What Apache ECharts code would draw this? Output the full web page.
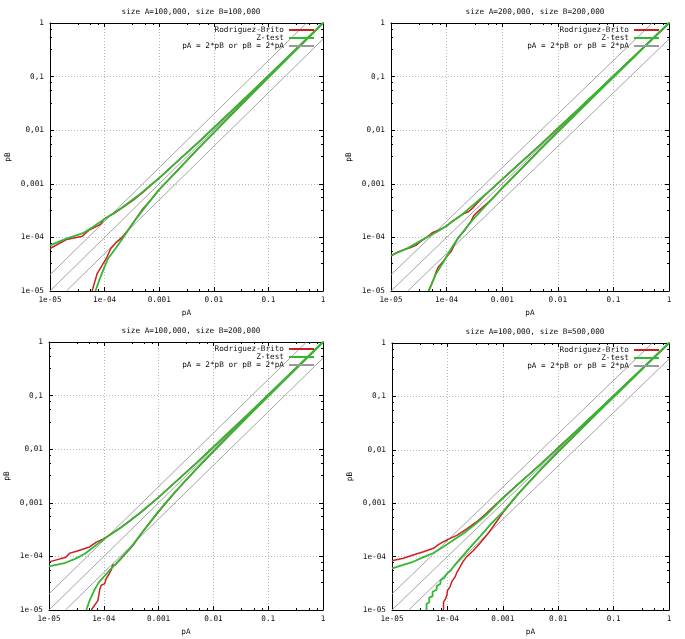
<!DOCTYPE html>
<html><head><meta charset="utf-8">
<script src="https://cdn.jsdelivr.net/npm/echarts@6/dist/echarts.min.js"></script>
<style>html,body{margin:0;padding:0;background:#fff}#c{width:685px;height:639px}</style>
</head><body><div id="c"></div>
<script>
// ---------- data ----------
const panelTitles = [
  'size A=100,000, size B=100,000',
  'size A=200,000, size B=200,000',
  'size A=100,000, size B=200,000',
  'size A=100,000, size B=500,000'
];
const seriesNames = ['Rodriguez-Brito', 'Z-test', 'pA = 2*pB or pB = 2*pA'];
const xTickLabels = ['1e-05', '1e-04', '0.001', '0.01', '0.1', '1'];
const yTickLabels = ['1e-05', '1e-04', '0,001', '0,01', '0,1', '1'];

// guide lines pB = 2*pA, pB = pA, pB = pA/2
const guideDouble = [[1e-5, 2e-5], [0.5, 1]];
const guideEqual = [[1e-5, 1e-5], [1, 1]];
const guideHalf = [[2e-5, 1e-5], [1, 0.5]];

// panel 1: A=100,000 B=100,000
const p1RedUp = [[1e-5,6.2e-5],[2e-5,9.1e-5],[3.9e-5,1.05e-4],[5.1e-5,1.35e-4],[8.4e-5,1.75e-4],[1e-4,2.24e-4],[1.5e-4,2.8e-4],[2e-4,3.45e-4],[3.4e-4,5e-4],[5e-4,6.9e-4],[1e-3,1.28e-3],[2e-3,2.45e-3],[5e-3,5.7e-3],[0.01,0.0111],[0.02,0.0216],[0.05,0.0525],[0.1,0.1035],[0.2,0.205],[0.5,0.503],[1,1]];
const p1RedLow = [[5.9e-5,1e-5],[7.3e-5,2.1e-5],[1.07e-4,4e-5],[1.3e-4,6.2e-5],[1.6e-4,7.9e-5],[2.1e-4,1e-4],[2.8e-4,1.45e-4],[3.5e-4,2e-4],[5e-4,3.4e-4],[7e-4,5e-4],[1e-3,7.8e-4],[2e-3,1.63e-3],[5e-3,4.37e-3],[0.01,0.009],[0.02,0.0185],[0.05,0.0475],[0.1,0.0965],[0.2,0.195],[0.5,0.497],[1,1]];
const p1GreenUp = [[1e-5,7.1e-5],[2e-5,9.5e-5],[4e-5,1.2e-4],[6e-5,1.55e-4],[1e-4,2.2e-4],[2e-4,3.5e-4],[4e-4,5.9e-4],[1e-3,1.28e-3],[2e-3,2.45e-3],[5e-3,5.7e-3],[0.01,0.0111],[0.02,0.0216],[0.05,0.0525],[0.1,0.1035],[0.2,0.205],[0.5,0.503],[1,1]];
const p1GreenLow = [[6.8e-5,1e-5],[8e-5,1.6e-5],[9.5e-5,2.5e-5],[1.15e-4,4e-5],[1.55e-4,6e-5],[2.2e-4,1e-4],[3.5e-4,2e-4],[5.9e-4,4e-4],[1e-3,7.8e-4],[2e-3,1.63e-3],[5e-3,4.37e-3],[0.01,0.009],[0.02,0.0185],[0.05,0.0475],[0.1,0.0965],[0.2,0.195],[0.5,0.497],[1,1]];

// panel 2: A=200,000 B=200,000
const p2RedUp = [[1e-5,4.5e-5],[1.3e-5,5.3e-5],[1.7e-5,5.9e-5],[2.2e-5,6.4e-5],[2.8e-5,7.1e-5],[3.5e-5,8.6e-5],[4.5e-5,1.02e-4],[5.5e-5,1.22e-4],[7e-5,1.35e-4],[1e-4,1.62e-4],[1.3e-4,2.05e-4],[1.6e-4,2.35e-4],[2e-4,2.75e-4],[2.5e-4,3.05e-4],[3e-4,3.6e-4],[5e-4,6.3e-4],[1e-3,1.21e-3],[2e-3,2.33e-3],[5e-3,5.5e-3],[0.01,0.0108],[0.02,0.0211],[0.05,0.0517],[0.1,0.1025],[0.2,0.203],[0.5,0.502],[1,1]];
const p2RedLow = [[4.7e-5,1e-5],[5.3e-5,1.3e-5],[5.9e-5,1.7e-5],[6.4e-5,2.2e-5],[7.1e-5,2.8e-5],[8.6e-5,3.5e-5],[1.02e-4,4.5e-5],[1.22e-4,5.5e-5],[1.35e-4,7e-5],[1.62e-4,1e-4],[2.05e-4,1.3e-4],[2.35e-4,1.6e-4],[2.75e-4,2e-4],[3.05e-4,2.5e-4],[3.6e-4,3e-4],[6.3e-4,5e-4],[1e-3,8.3e-4],[2e-3,1.72e-3],[5e-3,4.55e-3],[0.01,0.0093],[0.02,0.019],[0.05,0.0483],[0.1,0.0975],[0.2,0.197],[0.5,0.498],[1,1]];
const p2GreenUp = [[1e-5,4.6e-5],[2e-5,6.3e-5],[4e-5,9.5e-5],[7e-5,1.3e-4],[1e-4,1.65e-4],[2e-4,2.8e-4],[5e-4,6.3e-4],[1e-3,1.21e-3],[2e-3,2.33e-3],[5e-3,5.5e-3],[0.01,0.0108],[0.02,0.0211],[0.05,0.0517],[0.1,0.1025],[0.2,0.203],[0.5,0.502],[1,1]];
const p2GreenLow = [[4.8e-5,1e-5],[6.3e-5,2e-5],[9.5e-5,4e-5],[1.3e-4,7e-5],[1.65e-4,1e-4],[2.8e-4,2e-4],[6.3e-4,5e-4],[1e-3,8.3e-4],[2e-3,1.72e-3],[5e-3,4.55e-3],[0.01,0.0093],[0.02,0.019],[0.05,0.0483],[0.1,0.0975],[0.2,0.197],[0.5,0.498],[1,1]];

// panel 3: A=100,000 B=200,000
const p3RedUp = [[1e-5,7.9e-5],[1.6e-5,9e-5],[2e-5,9.5e-5],[2.4e-5,1.15e-4],[3.2e-5,1.25e-4],[4.5e-5,1.4e-4],[5.5e-5,1.5e-4],[7.3e-5,1.85e-4],[9.7e-5,2.1e-4],[1.3e-4,2.55e-4],[2e-4,3.4e-4],[3e-4,4.6e-4],[5e-4,6.9e-4],[1e-3,1.27e-3],[2e-3,2.42e-3],[3e-3,3.5e-3],[5e-3,5.65e-3],[7e-3,7.8e-3],[0.01,0.011],[0.02,0.0215],[0.05,0.052],[0.1,0.103],[0.2,0.204],[0.5,0.503],[1,1]];
const p3RedLow = [[5.9e-5,1e-5],[7.8e-5,1.5e-5],[8.5e-5,2.5e-5],[9e-5,2.9e-5],[1.04e-4,3.1e-5],[1.1e-4,3.8e-5],[1.2e-4,4.4e-5],[1.37e-4,5.6e-5],[1.45e-4,6.9e-5],[1.6e-4,6.9e-5],[1.95e-4,8.5e-5],[2.6e-4,1.18e-4],[3.4e-4,1.6e-4],[5e-4,2.8e-4],[1e-3,6.8e-4],[2e-3,1.58e-3],[3e-3,2.5e-3],[5e-3,4.35e-3],[7e-3,6.2e-3],[0.01,0.0091],[0.02,0.0187],[0.05,0.048],[0.1,0.097],[0.2,0.196],[0.5,0.497],[1,1]];
const p3GreenUp = [[1e-5,6.5e-5],[2e-5,7.6e-5],[3e-5,9e-5],[4.5e-5,1.12e-4],[7e-5,1.58e-4],[1e-4,2.1e-4],[2e-4,3.4e-4],[4.5e-4,6.4e-4],[1e-3,1.26e-3],[2e-3,2.4e-3],[5e-3,5.6e-3],[0.01,0.011],[0.02,0.0214],[0.05,0.052],[0.1,0.103],[0.2,0.204],[0.5,0.503],[1,1]];
const p3GreenLow = [[4.8e-5,1e-5],[5.5e-5,1.5e-5],[6.8e-5,2.4e-5],[8e-5,3.2e-5],[9e-5,3.7e-5],[1.3e-4,5.6e-5],[1.95e-4,8.7e-5],[3e-4,1.4e-4],[5e-4,2.8e-4],[1e-3,7e-4],[2e-3,1.6e-3],[5e-3,4.4e-3],[0.01,0.0091],[0.02,0.0187],[0.05,0.048],[0.1,0.097],[0.2,0.196],[0.5,0.497],[1,1]];

// panel 4: A=100,000 B=500,000
const p4RedUp = [[1e-5,8.4e-5],[1.6e-5,9.3e-5],[2.4e-5,1.07e-4],[3.7e-5,1.23e-4],[5.6e-5,1.43e-4],[7e-5,1.7e-4],[8.5e-5,1.9e-4],[1.12e-4,2.2e-4],[1.48e-4,2.5e-4],[2.24e-4,3.3e-4],[3.4e-4,4.5e-4],[5e-4,6.4e-4],[1e-3,1.26e-3],[2e-3,2.42e-3],[3e-3,3.48e-3],[5e-3,5.6e-3],[7e-3,7.7e-3],[0.01,0.011],[0.02,0.0213],[0.05,0.0518],[0.1,0.1028],[0.2,0.204],[0.5,0.503],[1,1]];
const p4RedLow = [[8.5e-5,1e-5],[8.5e-5,1.4e-5],[9.2e-5,1.6e-5],[9.8e-5,1.9e-5],[1e-4,2.3e-5],[1.12e-4,2.75e-5],[1.2e-4,3.4e-5],[1.38e-4,4.2e-5],[1.5e-4,5.2e-5],[1.7e-4,6.5e-5],[1.9e-4,8e-5],[2.24e-4,1e-4],[2.95e-4,1.3e-4],[3.9e-4,1.8e-4],[5.1e-4,2.5e-4],[7e-4,3.9e-4],[1e-3,6.6e-4],[2e-3,1.58e-3],[3e-3,2.5e-3],[5e-3,4.4e-3],[7e-3,6.25e-3],[0.01,0.0092],[0.02,0.0188],[0.05,0.0482],[0.1,0.0972],[0.2,0.196],[0.5,0.497],[1,1]];
const p4GreenUp = [[1e-5,6e-5],[1.6e-5,7e-5],[2.4e-5,8e-5],[3.7e-5,9.8e-5],[5.6e-5,1.17e-4],[8.5e-5,1.53e-4],[1.29e-4,2.04e-4],[1.95e-4,2.7e-4],[3e-4,3.85e-4],[5e-4,6e-4],[1e-3,1.24e-3],[2e-3,2.38e-3],[5e-3,5.55e-3],[0.01,0.0109],[0.02,0.0212],[0.05,0.0518],[0.1,0.1028],[0.2,0.204],[0.5,0.503],[1,1]];
const p4GreenLow = [[4.2e-5,1e-5],[4.2e-5,1.3e-5],[4.7e-5,1.4e-5],[4.7e-5,1.7e-5],[5.4e-5,1.8e-5],[5.4e-5,2.2e-5],[6.4e-5,2.4e-5],[6.4e-5,2.8e-5],[7.5e-5,3.1e-5],[7.5e-5,3.6e-5],[8.8e-5,4e-5],[9.8e-5,4.8e-5],[1.15e-4,5.5e-5],[1.29e-4,6.5e-5],[1.6e-4,8.5e-5],[1.95e-4,1.07e-4],[2.6e-4,1.5e-4],[3.9e-4,2.4e-4],[6e-4,4e-4],[1e-3,6.9e-4],[2e-3,1.6e-3],[5e-3,4.42e-3],[0.01,0.0092],[0.02,0.0188],[0.05,0.0482],[0.1,0.0972],[0.2,0.196],[0.5,0.497],[1,1]];

// ---------- layout / style ----------
const FONT = 'DejaVu Sans Mono';
const FS = 7.7;
const TXT = '#111';
const RED = '#cc2020';
const GREEN = '#33b833';
const GRAY = '#999999';

const panels = [
  {title: panelTitles[0], grid: {left: 50, top: 23, width: 273, height: 268}, cx: 186, ty: 3, legend: {right: 370, top: 26}, red: [p1RedUp, p1RedLow], green: [p1GreenUp, p1GreenLow]},
  {title: panelTitles[1], grid: {left: 391, top: 23, width: 278, height: 268}, cx: 530, ty: 3, legend: {right: 25, top: 26}, red: [p2RedUp, p2RedLow], green: [p2GreenUp, p2GreenLow]},
  {title: panelTitles[2], grid: {left: 49, top: 342, width: 274, height: 268}, cx: 186, ty: 322, legend: {right: 370, top: 345}, red: [p3RedUp, p3RedLow], green: [p3GreenUp, p3GreenLow]},
  {title: panelTitles[3], grid: {left: 392, top: 343, width: 277, height: 267}, cx: 530, ty: 323, legend: {right: 25, top: 346}, red: [p4RedUp, p4RedLow], green: [p4GreenUp, p4GreenLow]}
];

function labelFor(list) {
  return function (v) {
    const i = Math.round(Math.log10(v)) + 5;
    return list[i] !== undefined ? list[i] : '';
  };
}

function axisBase(gi, main, labels, isX) {
  return {
    type: 'log', logBase: 10, min: 1e-5, max: 1, gridIndex: gi,
    position: isX ? (main ? 'bottom' : 'top') : (main ? 'left' : 'right'),
    axisLine: {show: true, onZero: false, lineStyle: {color: '#000', width: 1}},
    axisTick: {show: true, inside: true, length: 4, lineStyle: {color: '#000', width: 1}},
    minorTick: {show: true, splitNumber: 4, length: 2, lineStyle: {color: '#000', width: 1}},
    axisLabel: {show: main, formatter: labelFor(labels), fontFamily: FONT, fontSize: FS, color: TXT, margin: isX ? 5 : 6},
    splitLine: {show: main, lineStyle: {type: [1, 2], color: '#b8b8b8', width: 1}},
    name: main ? (isX ? 'pA' : 'pB') : '',
    nameLocation: 'middle',
    nameGap: isX ? 18 : 38,
    nameTextStyle: {fontFamily: FONT, fontSize: FS, color: TXT}
  };
}

const option = {
  animation: false,
  backgroundColor: '#fff',
  title: [], grid: [], xAxis: [], yAxis: [], legend: [], series: []
};

panels.forEach(function (p, i) {
  option.title.push({text: p.title, left: p.cx, top: p.ty, textAlign: 'center',
    textStyle: {fontFamily: FONT, fontSize: FS, fontWeight: 'normal', color: TXT}});
  option.grid.push(Object.assign({show: false}, p.grid));
  option.xAxis.push(axisBase(i, true, xTickLabels, true));
  option.xAxis.push(axisBase(i, false, xTickLabels, true));
  option.yAxis.push(axisBase(i, true, yTickLabels, false));
  option.yAxis.push(axisBase(i, false, yTickLabels, false));
  option.legend.push({
    orient: 'vertical', align: 'right', right: p.legend.right, top: p.legend.top,
    padding: 0, itemWidth: 25, itemHeight: 6, itemGap: 0, selectedMode: false,
    itemStyle: {opacity: 0},
    textStyle: {fontFamily: FONT, fontSize: FS, lineHeight: 8, color: TXT},
    data: seriesNames
  });
  const xi = i * 2, yi = i * 2;
  [guideDouble, guideEqual, guideHalf].forEach(function (g) {
    option.series.push({type: 'line', name: seriesNames[2], xAxisIndex: xi, yAxisIndex: yi, data: g,
      symbol: 'none', silent: true, lineStyle: {color: GRAY, width: 0.9}, itemStyle: {color: GRAY}});
  });
  p.red.forEach(function (d) {
    option.series.push({type: 'line', name: seriesNames[0], xAxisIndex: xi, yAxisIndex: yi, data: d,
      symbol: 'none', silent: true, lineStyle: {color: RED, width: 1.5}, itemStyle: {color: RED}});
  });
  p.green.forEach(function (d) {
    option.series.push({type: 'line', name: seriesNames[1], xAxisIndex: xi, yAxisIndex: yi, data: d,
      symbol: 'none', silent: true, lineStyle: {color: GREEN, width: 1.8}, itemStyle: {color: GREEN}});
  });
});

const chart = echarts.init(document.getElementById('c'), null, {renderer: 'canvas'});
chart.setOption(option);
</script></body></html>
